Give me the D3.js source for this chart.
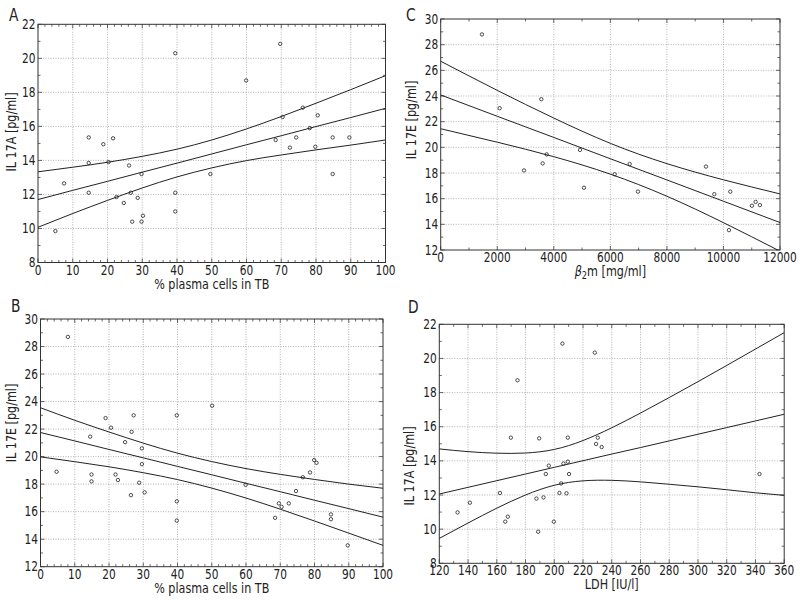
<!DOCTYPE html>
<html><head><meta charset="utf-8">
<script src="https://cdn.jsdelivr.net/npm/d3@7"></script>
<style>
body{margin:0;background:#fff}
svg text{font-family:'DejaVu Sans Condensed','DejaVu Sans',sans-serif;font-stretch:condensed;fill:#222}
</style></head><body><div id="canvas"></div>
<script>
// panel A: % plasma cells vs IL 17A
const aX = [5,7.5,14.6,14.6,14.6,18.8,21.6,20.3,22.6,24.7,26.2,26.7,27.1,28.7,29.8,29.8,30.2,39.5,39.5,39.5,49.6,59.9,68.4,69.7,70.4,72.5,74.3,76.2,78.2,79.8,80.5,84.8,84.8,89.6];
const aY = [9.85,12.65,15.35,13.85,12.1,14.95,15.3,13.9,11.85,11.5,13.7,12.1,10.4,11.8,13.2,10.4,10.75,20.3,12.1,11.0,13.2,18.7,15.2,20.85,16.55,14.75,15.35,17.1,15.9,14.8,16.65,15.35,13.2,15.35];
const aBandX = [0,10,20,30,40,50,60,70,80,90,100];
const aMid = [11.70,12.24,12.77,13.31,13.84,14.38,14.92,15.45,15.99,16.52,17.06];
const aUpper = [13.33,13.60,13.89,14.24,14.66,15.20,15.85,16.58,17.36,18.16,18.98];
const aLower = [10.07,10.88,11.65,12.38,13.03,13.56,13.99,14.32,14.62,14.90,15.20];
const aXTicks = [0,10,20,30,40,50,60,70,80,90,100];
const aYTicks = [8,10,12,14,16,18,20,22];

// panel B: % plasma cells vs IL 17E
const bX = [4.7,8.0,14.5,14.9,14.9,19.0,20.6,21.9,22.6,24.7,26.4,26.6,27.2,28.8,29.6,29.6,30.4,39.8,39.8,39.8,50.1,59.9,68.5,69.6,70.4,72.5,74.6,76.6,78.7,79.9,80.6,84.8,84.8,89.7];
const bY = [18.9,28.7,21.45,18.7,18.2,22.8,22.1,18.7,18.3,21.05,17.2,21.8,23.0,18.1,20.6,19.45,17.4,23.0,16.75,15.35,23.7,17.95,15.55,16.6,16.35,16.6,17.5,18.5,18.85,19.75,19.55,15.8,15.45,13.55];
const bBandX = [0,10,20,30,40,50,60,70,80,90,100];
const bMid = [21.75,21.14,20.52,19.91,19.29,18.68,18.06,17.45,16.83,16.22,15.60];
const bUpper = [23.55,22.64,21.79,20.98,20.25,19.64,19.13,18.71,18.34,18.00,17.70];
const bLower = [19.98,19.63,19.26,18.83,18.33,17.71,16.99,16.18,15.32,14.44,13.55];
const bXTicks = [0,10,20,30,40,50,60,70,80,90,100];
const bYTicks = [12,14,16,18,20,22,24,26,28,30];

// panel C: beta2-microglobulin vs IL 17E
const cX = [1460,2086,2946,3558,3606,3748,4926,5067,6153,6683,6977,9381,9676,10242,10194,11008,11138,11290];
const cY = [28.8,23.05,18.2,23.75,18.75,19.45,19.8,16.85,17.9,18.7,16.55,18.5,16.35,16.55,13.55,15.45,15.75,15.5];
const cBandX = [0,2000,4000,6000,8000,10000,12000];
const cMid = [24.08,22.42,20.77,19.11,17.46,15.80,14.14];
const cUpper = [26.71,24.44,22.28,20.31,18.73,17.47,16.37];
const cLower = [21.45,20.40,19.27,17.91,16.19,14.13,11.91];
const cXTicks = [0,2000,4000,6000,8000,10000,12000];
const cYTicks = [12,14,16,18,20,22,24,26,28,30];

// panel D: LDH vs IL 17A
const dX = [132.7,141.3,162.2,165.9,167.7,169.8,174.4,187.6,188.8,189.5,192.5,194.1,196.2,199.7,203.6,204.8,205.7,206.4,208.5,209.4,209.4,210.3,228.2,229.1,230.3,233.0,342.8];
const dY = [10.98,11.55,12.12,10.44,10.73,15.36,18.72,11.79,9.85,15.32,11.86,13.23,13.72,10.44,12.12,12.68,20.87,13.84,12.1,13.95,15.36,13.23,20.34,14.99,15.36,14.81,13.23];
const dBandX = [120,140,160,180,200,220,240,260,280,300,320,340,360];
const dMid = [12.06,12.45,12.84,13.23,13.62,14.01,14.40,14.78,15.17,15.56,15.95,16.34,16.73];
const dUpper = [14.70,14.54,14.45,14.46,14.67,15.19,15.94,16.80,17.71,18.64,19.59,20.55,21.51];
const dLower = [9.46,10.36,11.23,12.00,12.57,12.83,12.86,12.77,12.63,12.48,12.31,12.13,11.98];
const dXTicks = [120,140,160,180,200,220,240,260,280,300,320,340,360];
const dYTicks = [8,10,12,14,16,18,20,22];

const panels = [
  {key:'a', letter:'A', lx:9, ly:21, box:[38,385.5,24.3,262.5], xd:[0,100], yd:[8,22],
   xs:aX, ys:aY, bx:aBandX, mid:aMid, up:aUpper, lo:aLower, xt:aXTicks, yt:aYTicks, xMinor:2, yMinor:1,
   xTitle:'% plasma cells in TB', yTitle:'IL 17A [pg/ml]', ylx:16, yly:132},
  {key:'b', letter:'B', lx:11, ly:312, box:[40.5,383,319,566.7], xd:[0,100], yd:[12,30],
   xs:bX, ys:bY, bx:bBandX, mid:bMid, up:bUpper, lo:bLower, xt:bXTicks, yt:bYTicks, xMinor:2, yMinor:1,
   xTitle:'% plasma cells in TB', yTitle:'IL 17E [pg/ml]', ylx:16, yly:423},
  {key:'c', letter:'C', lx:406, ly:21, box:[440.7,780,19,250], xd:[0,12000], yd:[12,30],
   xs:cX, ys:cY, bx:cBandX, mid:cMid, up:cUpper, lo:cLower, xt:cXTicks, yt:cYTicks, xMinor:1000, yMinor:1,
   xTitle:null, yTitle:'IL 17E [pg/ml]', ylx:416, yly:120},
  {key:'d', letter:'D', lx:408, ly:313, box:[439.3,784.2,324.3,563.3], xd:[120,360], yd:[8,22],
   xs:dX, ys:dY, bx:dBandX, mid:dMid, up:dUpper, lo:dLower, xt:dXTicks, yt:dYTicks, xMinor:10, yMinor:1,
   xTitle:'LDH [IU/l]', yTitle:'IL 17A [pg/ml]', ylx:414, yly:466}
];

const SX = 0.84;   // squeeze text to look like the condensed original
const svg = d3.select("#canvas").append("svg")
  .attr("width", 800).attr("height", 608);

panels.forEach(p => {
  const [x0,x1,y0,y1] = p.box;
  const x = d3.scaleLinear().domain(p.xd).range([x0,x1]);
  const y = d3.scaleLinear().domain(p.yd).range([y1,y0]);
  const g = svg.append("g");

  g.append("clipPath").attr("id","clip-"+p.key)
    .append("rect").attr("x",x0).attr("y",y0).attr("width",x1-x0).attr("height",y1-y0);

  // grid
  g.selectAll(".gx").data(p.xt.slice(1,-1)).enter().append("line")
    .attr("x1",d=>x(d)).attr("x2",d=>x(d)).attr("y1",y0).attr("y2",y1)
    .attr("stroke","#a0a0a0").attr("stroke-width",0.8).attr("stroke-dasharray","1,1.5");
  g.selectAll(".gy").data(p.yt.slice(1,-1)).enter().append("line")
    .attr("y1",d=>y(d)).attr("y2",d=>y(d)).attr("x1",x0).attr("x2",x1)
    .attr("stroke","#a0a0a0").attr("stroke-width",0.8).attr("stroke-dasharray","1,1.5");

  // inward ticks on all sides
  const xMin = d3.range(p.xd[0], p.xd[1]+1e-9, p.xMinor);
  const yMin = d3.range(p.yd[0], p.yd[1]+1e-9, p.yMinor);
  const tk = g.append("g").attr("stroke","#444").attr("stroke-width",0.8);
  xMin.forEach(v => {
    const L = p.xt.includes(v) ? 4 : 2.5;
    tk.append("line").attr("x1",x(v)).attr("x2",x(v)).attr("y1",y1).attr("y2",y1-L);
    tk.append("line").attr("x1",x(v)).attr("x2",x(v)).attr("y1",y0).attr("y2",y0+L);
  });
  yMin.forEach(v => {
    const L = p.yt.includes(v) ? 4 : 2.5;
    tk.append("line").attr("y1",y(v)).attr("y2",y(v)).attr("x1",x0).attr("x2",x0+L);
    tk.append("line").attr("y1",y(v)).attr("y2",y(v)).attr("x1",x1).attr("x2",x1-L);
  });

  // frame
  g.append("rect").attr("x",x0).attr("y",y0).attr("width",x1-x0).attr("height",y1-y0)
    .attr("fill","none").attr("stroke","#333").attr("stroke-width",1);

  // tick labels
  g.selectAll(".xl").data(p.xt).enter().append("text")
    .attr("transform",d=>`translate(${x(d)},${y1+12}) scale(${SX},1)`)
    .attr("text-anchor","middle").attr("font-size",14).text(d=>d);
  g.selectAll(".yl").data(p.yt).enter().append("text")
    .attr("transform",d=>`translate(${x0-2.5},${y(d)+4.5}) scale(${SX},1)`)
    .attr("text-anchor","end").attr("font-size",14).text(d=>d);

  // regression line and confidence band
  const line = d3.line().x(d=>x(d[0])).y(d=>y(d[1])).curve(d3.curveNatural);
  const lg = g.append("g").attr("clip-path","url(#clip-"+p.key+")");
  [p.mid,p.up,p.lo].forEach(arr => {
    lg.append("path").attr("d", line(p.bx.map((v,i)=>[v,arr[i]])))
      .attr("fill","none").attr("stroke","#222").attr("stroke-width",1);
  });

  // points
  g.selectAll(".pt").data(p.xs.map((v,i)=>[v,p.ys[i]])).enter().append("circle")
    .attr("cx",d=>x(d[0])).attr("cy",d=>y(d[1])).attr("r",1.7)
    .attr("fill","none").attr("stroke","#222").attr("stroke-width",0.8);

  // titles
  const cx = (x0+x1)/2;
  const xt = g.append("text").attr("transform",`translate(${cx},${y1+26}) scale(0.92,1)`)
    .attr("text-anchor","middle").attr("font-size",13.5);
  if (p.xTitle) xt.text(p.xTitle);
  else {
    xt.append("tspan").attr("font-style","italic").text("β");
    xt.append("tspan").attr("font-size",10).attr("dy",3).text("2");
    xt.append("tspan").attr("dy",-3).text("m [mg/ml]");
  }
  g.append("text").attr("transform",`translate(${p.ylx},${p.yly}) rotate(-90) scale(0.92,1)`)
    .attr("text-anchor","middle").attr("font-size",13.5).text(p.yTitle);
  g.append("text").attr("transform",`translate(${p.lx},${p.ly}) scale(0.85,1)`)
    .attr("font-size",18).text(p.letter);
});
</script></body></html>
